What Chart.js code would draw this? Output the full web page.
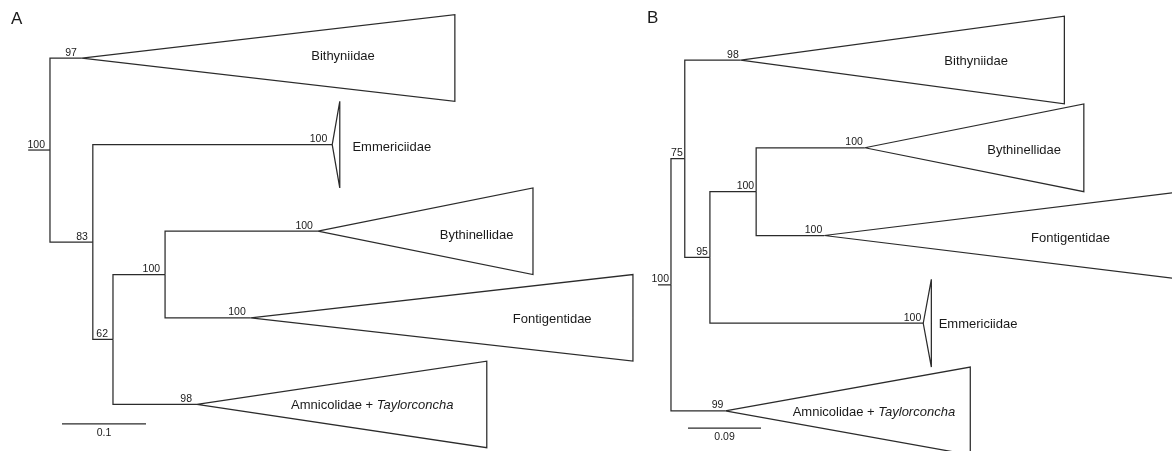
<!DOCTYPE html>
<html>
<head>
<meta charset="utf-8">
<script src="https://cdn.jsdelivr.net/npm/chart.js@4.4.1/dist/chart.umd.min.js"></script>
<style>
  html, body { margin: 0; padding: 0; background: #fff; }
  #wrap { position: relative; width: 1172px; height: 451px; overflow: hidden; }
  canvas { position: absolute; top: 0; }
</style>
</head>
<body>
<div id="wrap">
  <canvas id="treeA" width="640" height="451" style="left:0"></canvas>
  <canvas id="treeB" width="532" height="451" style="left:640px"></canvas>
</div>
<script>
// ---- Panel A ----
// collapsed clades, top to bottom
let cladesA = ["Bithyniidae", "Emmericiidae", "Bythinellidae", "Fontigentidae", "Amnicolidae + Taylorconcha"];
let cladeParentA = ["root", "n83", "n100", "n100", "n62"];
let crownDepthA = [0.038, 0.336, 0.319, 0.239, 0.175];   // substitutions/site from root
let tipDepthA = [0.482, 0.345, 0.575, 0.694, 0.520];
let cladeSupportA = [97, 100, 100, 100, 98];
// internal nodes
let nodesA = ["root", "n83", "n62", "n100"];
let nodeParentA = [null, "root", "n83", "n62"];
let nodeDepthA = [0, 0.051, 0.075, 0.137];
let nodeSupportA = [100, 83, 62, 100];
let scaleBarA = 0.1;

// ---- Panel B ----
let cladesB = ["Bithyniidae", "Bythinellidae", "Fontigentidae", "Emmericiidae", "Amnicolidae + Taylorconcha"];
let cladeParentB = ["n75", "n100", "n100", "n95", "root"];
let crownDepthB = [0.086, 0.239, 0.189, 0.311, 0.067];
let tipDepthB = [0.485, 0.509, 0.630, 0.321, 0.369];
let cladeSupportB = [98, 100, 100, 100, 99];
let nodesB = ["root", "n75", "n95", "n100"];
let nodeParentB = [null, "root", "n75", "n95"];
let nodeDepthB = [0, 0.017, 0.048, 0.105];
let nodeSupportB = [100, 75, 95, 100];
let scaleBarB = 0.09;

const FONT = 'Arial, "Liberation Sans", sans-serif';
const LINE = "#2b2b2b";

const treeText = {
  id: "treeText",
  afterDatasetsDraw(chart, args, o) {
    const ctx = chart.ctx;
    const sx = chart.scales.x, sy = chart.scales.y;
    ctx.save();
    ctx.fillStyle = "#1a1a1a";

    // panel letter
    ctx.font = "17px " + FONT;
    ctx.textAlign = "left";
    ctx.textBaseline = "alphabetic";
    ctx.fillText(o.letter, o.letterPos[0], o.letterPos[1]);

    // bootstrap values
    ctx.font = "10.5px " + FONT;
    ctx.textAlign = "right";
    o.supports.forEach(s => {
      ctx.fillText(String(s.v), sx.getPixelForValue(s.x) - o.gap, sy.getPixelForValue(s.y) - 2.5);
    });

    // scale bar label
    ctx.textAlign = "center";
    ctx.textBaseline = "top";
    ctx.fillText(String(o.bar.len), sx.getPixelForValue(o.bar.x + o.bar.len / 2), sy.getPixelForValue(o.bar.y) + 4);

    // clade names
    ctx.font = "13px " + FONT;
    ctx.textAlign = "left";
    ctx.textBaseline = "middle";
    o.names.forEach((n, i) => {
      let px = sx.getPixelForValue(o.nameX[i]);
      let py = sy.getPixelForValue(i) + o.nameDy[i];
      let parts = n.split(" + ");
      if (parts.length > 1) {
        ctx.font = "13px " + FONT;
        let first = parts[0] + " + ";
        ctx.fillText(first, px, py);
        px += ctx.measureText(first).width;
        ctx.font = "italic 13px " + FONT;
        ctx.fillText(parts[1], px, py);
        ctx.font = "13px " + FONT;
      } else {
        ctx.fillText(n, px, py);
      }
    });
    ctx.restore();
  }
};

function drawTree(id, t, view) {
  // y of a node: clades sit at their row index, inner nodes at the mean of their children
  function yOf(name) {
    let ys = [];
    t.cladeParent.forEach((p, i) => { if (p === name) ys.push(i); });
    t.nodeParent.forEach((p, i) => { if (p === name) ys.push(yOf(t.nodes[i])); });
    return ys.reduce((a, b) => a + b, 0) / ys.length;
  }
  const depthOf = name => t.nodeDepth[t.nodes.indexOf(name)];

  let sets = [];
  let supports = [];
  const seg = pts => sets.push({ data: pts });

  t.nodes.forEach((n, i) => {
    let y = yOf(n);
    supports.push({ v: t.nodeSupport[i], x: t.nodeDepth[i], y: y });
    if (t.nodeParent[i] === null) {
      seg([{ x: -view.stub, y: y }, { x: 0, y: y }]);
    } else {
      let p = t.nodeParent[i];
      seg([{ x: depthOf(p), y: yOf(p) }, { x: depthOf(p), y: y }, { x: t.nodeDepth[i], y: y }]);
    }
  });

  t.clades.forEach((c, i) => {
    let p = t.cladeParent[i];
    seg([{ x: depthOf(p), y: yOf(p) }, { x: depthOf(p), y: i }, { x: t.crownDepth[i], y: i }]);
    seg([
      { x: t.crownDepth[i], y: i },
      { x: t.tipDepth[i], y: i - 0.5 },
      { x: t.tipDepth[i], y: i + 0.5 },
      { x: t.crownDepth[i], y: i }
    ]);
    supports.push({ v: t.cladeSupport[i], x: t.crownDepth[i], y: i });
  });

  seg([{ x: view.barX, y: view.barY }, { x: view.barX + t.bar, y: view.barY }]);

  sets.forEach(s => Object.assign(s, {
    showLine: true, pointRadius: 0, borderColor: LINE, backgroundColor: LINE,
    borderWidth: 1.25, fill: false, tension: 0, borderJoinStyle: "miter", borderCapStyle: "butt"
  }));

  return new Chart(document.getElementById(id), {
    type: "scatter",
    data: { datasets: sets },
    options: {
      responsive: false,
      animation: false,
      layout: { padding: 0 },
      events: [],
      scales: {
        x: { type: "linear", display: false, min: view.xMin, max: view.xMax },
        y: { type: "linear", display: false, reverse: true, min: view.yMin, max: view.yMax }
      },
      plugins: {
        legend: { display: false },
        tooltip: { enabled: false },
        treeText: {
          letter: view.letter, letterPos: view.letterPos, gap: view.gap,
          supports: supports, names: t.clades, nameX: view.nameX, nameDy: view.nameDy,
          bar: { x: view.barX, y: view.barY, len: t.bar }
        }
      }
    },
    plugins: [treeText]
  });
}

drawTree("treeA", {
  clades: cladesA, cladeParent: cladeParentA, crownDepth: crownDepthA, tipDepth: tipDepthA,
  cladeSupport: cladeSupportA, nodes: nodesA, nodeParent: nodeParentA, nodeDepth: nodeDepthA,
  nodeSupport: nodeSupportA, bar: scaleBarA
}, {
  xMin: -0.0595, xMax: 0.7024, yMin: -0.67, yMax: 4.538,
  stub: 0.026, gap: 5, letter: "A", letterPos: [11, 24],
  barX: 0.0143, barY: 4.226,
  nameX: [0.311, 0.360, 0.464, 0.551, 0.287],
  nameDy: [-2, 3, 4, 2, 1]
});

drawTree("treeB", {
  clades: cladesB, cladeParent: cladeParentB, crownDepth: crownDepthB, tipDepth: tipDepthB,
  cladeSupport: cladeSupportB, nodes: nodesB, nodeParent: nodeParentB, nodeDepth: nodeDepthB,
  nodeSupport: nodeSupportB, bar: scaleBarB
}, {
  xMin: -0.0382, xMax: 0.6177, yMin: -0.684, yMax: 4.456,
  stub: 0.016, gap: 2, letter: "B", letterPos: [7, 23],
  barX: 0.021, barY: 4.194,
  nameX: [0.337, 0.390, 0.444, 0.330, 0.150],
  nameDy: [1, 3, 3, 1, 1]
});
</script>
</body>
</html>
